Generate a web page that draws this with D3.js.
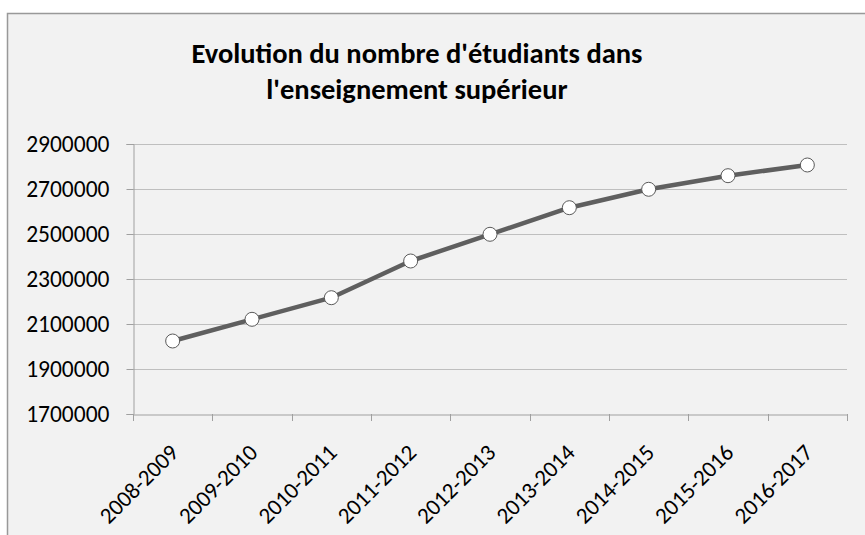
<!DOCTYPE html>
<html>
<head>
<meta charset="utf-8">
<script src="https://cdn.jsdelivr.net/npm/d3@7"></script>
<style>
    body { margin: 0; background: #ffffff; }
    svg text { font-family: Carlito, Calibri, Lato, sans-serif; fill: #000; }
</style>
</head>
<body>
<div id="chart"></div>
<script>
// data
let years = ["2008-2009", "2009-2010", "2010-2011", "2011-2012", "2012-2013",
             "2013-2014", "2014-2015", "2015-2016", "2016-2017"];
let students = [2024400, 2120900, 2216900, 2380000, 2498700,
                2616900, 2698700, 2759100, 2806700];
let yTicks = [1700000, 1900000, 2100000, 2300000, 2500000, 2700000, 2900000];
let titleLines = ["Evolution du nombre d'étudiants dans", "l'enseignement supérieur"];

let width = 865, height = 535;
let margin = {top: 144, right: 18, bottom: 121, left: 133};

let svg = d3.select("#chart").append("svg")
    .attr("width", width)
    .attr("height", height);

// chart frame
svg.append("rect")
    .attr("x", 7.5)
    .attr("y", 13.5)
    .attr("width", width)
    .attr("height", height)
    .attr("fill", "#f2f2f2")
    .attr("stroke", "#999999")
    .attr("stroke-width", 1.5);

// title
svg.append("g").selectAll("text")
    .data(titleLines)
    .enter()
    .append("text")
    .attr("x", 417)
    .attr("y", (d, i) => 63 + i * 36)
    .attr("text-anchor", "middle")
    .style("font-size", "28.5px")
    .style("font-weight", "bold")
    .text(d => d);

let x = d3.scaleBand()
    .domain(years)
    .range([margin.left, width - margin.right]);

let y = d3.scaleLinear()
    .domain([1700000, 2900000])
    .range([height - margin.bottom, margin.top]);

// gridlines
svg.append("g")
    .selectAll("line")
    .data(yTicks.slice(1))
    .enter()
    .append("line")
    .attr("x1", margin.left)
    .attr("x2", width - margin.right)
    .attr("y1", d => Math.round(y(d)) + 0.5)
    .attr("y2", d => Math.round(y(d)) + 0.5)
    .attr("stroke", "#bfbfbf")
    .attr("stroke-width", 1);

// y axis
let yAxis = svg.append("g")
    .attr("transform", `translate(${margin.left + 0.5},0)`)
    .call(d3.axisLeft(y).tickValues(yTicks).tickSize(7).tickPadding(17).tickFormat(d3.format("d")));

yAxis.selectAll("text").style("font-size", "23.5px").attr("dy", "0.33em");

// x axis
svg.append("g")
    .attr("transform", `translate(0,${Math.round(y(1700000)) + 0.5})`)
    .call(d3.axisBottom(x).tickSize(0).tickFormat(""));

// category boundary ticks
svg.append("g")
    .selectAll("line")
    .data(years.concat(["end"]))
    .enter()
    .append("line")
    .attr("x1", (d, i) => Math.round(margin.left + i * x.step()) + 0.5)
    .attr("x2", (d, i) => Math.round(margin.left + i * x.step()) + 0.5)
    .attr("y1", Math.round(y(1700000)))
    .attr("y2", Math.round(y(1700000)) + 7)
    .attr("stroke", "#a0a0a0");

svg.selectAll(".domain, .tick line").attr("stroke", "#a0a0a0");

// rotated category labels
svg.append("g")
    .selectAll("text")
    .data(years)
    .enter()
    .append("text")
    .attr("transform", d => `translate(${x(d) + x.bandwidth() / 2 + 7},${y(1700000) + 40}) rotate(-45)`)
    .attr("text-anchor", "end")
    .style("font-size", "23px")
    .text(d => d);

// line
let line = d3.line()
    .x((d, i) => x(years[i]) + x.bandwidth() / 2)
    .y(d => y(d));

svg.append("path")
    .datum(students)
    .attr("d", line)
    .attr("fill", "none")
    .attr("stroke", "#5f5f5f")
    .attr("stroke-width", 4.5)
    .attr("stroke-linejoin", "round");

// markers
svg.append("g")
    .selectAll("circle")
    .data(students)
    .enter()
    .append("circle")
    .attr("cx", (d, i) => x(years[i]) + x.bandwidth() / 2)
    .attr("cy", d => y(d))
    .attr("r", 7)
    .attr("fill", "#ffffff")
    .attr("stroke", "#5a5a5a")
    .attr("stroke-width", 1);
</script>
</body>
</html>
